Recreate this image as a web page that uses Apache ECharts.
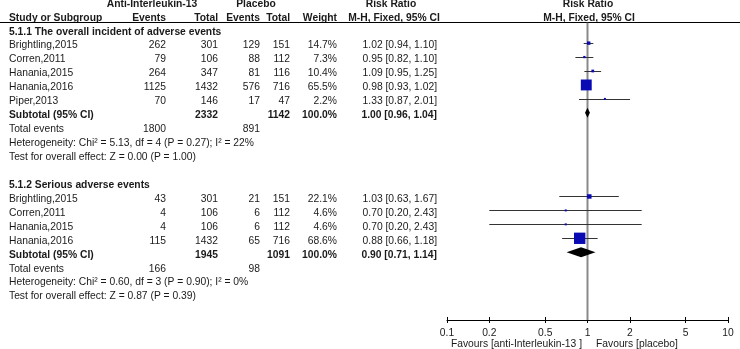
<!DOCTYPE html>
<html>
<head>
<meta charset="utf-8">
<script src="https://cdn.jsdelivr.net/npm/echarts@6/dist/echarts.min.js"></script>
<style>
  html, body { margin: 0; padding: 0; background: #fff; }
  #chart { width: 740px; height: 349px; }
</style>
</head>
<body>
<div id="chart"></div>
<script>
// 5.1.1 overall adverse events
var studies1 = ['Brightling,2015', 'Corren,2011', 'Hanania,2015', 'Hanania,2016', 'Piper,2013'];
var expEvents1 = [262, 79, 264, 1125, 70];
var expTotal1 = [301, 106, 347, 1432, 146];
var ctlEvents1 = [129, 88, 81, 576, 17];
var ctlTotal1 = [151, 112, 116, 716, 47];
var weight1 = [14.7, 7.3, 10.4, 65.5, 2.2];
var rr1 = [1.02, 0.95, 1.09, 0.98, 1.33];
var lo1 = [0.94, 0.82, 0.95, 0.93, 0.87];
var hi1 = [1.10, 1.10, 1.25, 1.02, 2.01];
var sub1 = { expTotal: 2332, ctlTotal: 1142, rr: 1.00, lo: 0.96, hi: 1.04, expEv: 1800, ctlEv: 891 };
var het1 = 'Heterogeneity: Chi² = 5.13, df = 4 (P = 0.27); I² = 22%';
var test1 = 'Test for overall effect: Z = 0.00 (P = 1.00)';

// 5.1.2 serious adverse events
var studies2 = ['Brightling,2015', 'Corren,2011', 'Hanania,2015', 'Hanania,2016'];
var expEvents2 = [43, 4, 4, 115];
var expTotal2 = [301, 106, 106, 1432];
var ctlEvents2 = [21, 6, 6, 65];
var ctlTotal2 = [151, 112, 112, 716];
var weight2 = [22.1, 4.6, 4.6, 68.6];
var rr2 = [1.03, 0.70, 0.70, 0.88];
var lo2 = [0.63, 0.20, 0.20, 0.66];
var hi2 = [1.67, 2.43, 2.43, 1.18];
var sub2 = { expTotal: 1945, ctlTotal: 1091, rr: 0.90, lo: 0.71, hi: 1.14, expEv: 166, ctlEv: 98 };
var het2 = 'Heterogeneity: Chi² = 0.60, df = 3 (P = 0.90); I² = 0%';
var test2 = 'Test for overall effect: Z = 0.87 (P = 0.39)';

var tickLabels = [0.1, 0.2, 0.5, 1, 2, 5, 10];

// layout
var ROW0 = 31.7, ROWH = 13.94;
var YMIN = -2, YMAX = 20.68;
var FONT = '"Liberation Sans", Arial, sans-serif';
var FS = '10.3px ';
var TXT = '#1a1a1a';
function rowY(r) { return ROW0 + r * ROWH; }
function f2(v) { return v.toFixed(2); }
function ci(r, l, h) { return f2(r) + ' [' + f2(l) + ', ' + f2(h) + ']'; }

var colX = { name: 9, ev1: 166, tot1: 218, ev2: 260, tot2: 290, wt: 337, rr: 437 };

var graphics = [];
function txt(x, r, s, align, bold) {
  graphics.push({
    type: 'text', x: x, y: rowY(r),
    style: { text: String(s), fill: TXT, font: (bold ? 'bold ' : '') + FS + FONT,
             align: align || 'left', verticalAlign: 'middle' }
  });
}

// header
txt(152, -2, 'Anti-Interleukin-13', 'center', true);
txt(256, -2, 'Placebo', 'center', true);
txt(391, -2, 'Risk Ratio', 'center', true);
txt(588, -2, 'Risk Ratio', 'center', true);
txt(colX.name, -1, 'Study or Subgroup', 'left', true);
txt(colX.ev1, -1, 'Events', 'right', true);
txt(colX.tot1, -1, 'Total', 'right', true);
txt(colX.ev2, -1, 'Events', 'right', true);
txt(colX.tot2, -1, 'Total', 'right', true);
txt(colX.wt, -1, 'Weight', 'right', true);
txt(394, -1, 'M-H, Fixed, 95% CI', 'center', true);
txt(589, -1, 'M-H, Fixed, 95% CI', 'center', true);
graphics.push({ type: 'line', shape: { x1: 0, y1: 22.5, x2: 740, y2: 22.5 },
  style: { stroke: '#000', lineWidth: 1 } });

function groupRows(start, title, studies, e1, t1, e2, t2, w, rr, lo, hi, sub, het, test) {
  txt(colX.name, start, title, 'left', true);
  studies.forEach(function (s, i) {
    var r = start + 1 + i;
    txt(colX.name, r, s);
    txt(colX.ev1, r, e1[i], 'right');
    txt(colX.tot1, r, t1[i], 'right');
    txt(colX.ev2, r, e2[i], 'right');
    txt(colX.tot2, r, t2[i], 'right');
    txt(colX.wt, r, w[i].toFixed(1) + '%', 'right');
    txt(colX.rr, r, ci(rr[i], lo[i], hi[i]), 'right');
  });
  var rs = start + 1 + studies.length;
  txt(colX.name, rs, 'Subtotal (95% CI)', 'left', true);
  txt(colX.tot1, rs, sub.expTotal, 'right', true);
  txt(colX.tot2, rs, sub.ctlTotal, 'right', true);
  txt(colX.wt, rs, '100.0%', 'right', true);
  txt(colX.rr, rs, ci(sub.rr, sub.lo, sub.hi), 'right', true);
  txt(colX.name, rs + 1, 'Total events');
  txt(colX.ev1, rs + 1, sub.expEv, 'right');
  txt(colX.ev2, rs + 1, sub.ctlEv, 'right');
  txt(colX.name, rs + 2, het);
  txt(colX.name, rs + 3, test);
  return rs;
}
var subRow1 = groupRows(0, '5.1.1 The overall incident of adverse events', studies1,
  expEvents1, expTotal1, ctlEvents1, ctlTotal1, weight1, rr1, lo1, hi1, sub1, het1, test1);
var subRow2 = groupRows(11, '5.1.2 Serious adverse events', studies2,
  expEvents2, expTotal2, ctlEvents2, ctlTotal2, weight2, rr2, lo2, hi2, sub2, het2, test2);

// forest data (x in log10 units), marks sit a touch above the text centre
var L = Math.log10;
var MARK_DY = -0.18;
var studyPts = [], ciLines = [], diamonds = [];
function addStudies(start, rr, lo, hi, w) {
  rr.forEach(function (v, i) {
    var r = start + 1 + i + MARK_DY;
    studyPts.push([L(v), r, w[i]]);
    ciLines.push([L(lo[i]), L(hi[i]), r]);
  });
}
addStudies(0, rr1, lo1, hi1, weight1);
addStudies(11, rr2, lo2, hi2, weight2);
diamonds.push([L(sub1.lo), L(sub1.rr), L(sub1.hi), subRow1 + MARK_DY]);
diamonds.push([L(sub2.lo), L(sub2.rr), L(sub2.hi), subRow2 + MARK_DY]);

var tickVals = tickLabels.map(L);
function tickFmt(v) {
  for (var i = 0; i < tickVals.length; i++) {
    if (Math.abs(tickVals[i] - v) < 1e-6) return String(tickLabels[i]);
  }
  return '';
}

var gridTop = rowY(YMIN), gridBottom = rowY(YMAX);
var chart = echarts.init(document.getElementById('chart'));
var option = {
  animation: false,
  backgroundColor: '#fff',
  grid: { left: 447, width: 281, top: gridTop, height: gridBottom - gridTop },
  xAxis: [{
    type: 'value', min: -1, max: 1, position: 'bottom',
    axisLine: { onZero: false, lineStyle: { color: '#000', width: 1 } },
    axisTick: { length: 3, customValues: tickVals, lineStyle: { color: '#000' } },
    axisLabel: { customValues: tickVals, formatter: tickFmt, color: TXT,
                 fontFamily: FONT, fontSize: 10.3, margin: 8 },
    splitLine: { show: false }
  }, {
    type: 'value', min: -1, max: 1, position: 'bottom', offset: 0,
    axisLine: { show: false, onZero: false },
    axisTick: { inside: true, length: 3, customValues: tickVals, lineStyle: { color: '#000' } },
    axisLabel: { show: false },
    splitLine: { show: false }
  }],
  yAxis: { type: 'value', min: YMIN, max: YMAX, inverse: true, show: false },
  series: [
    {
      type: 'line', data: [[0, -0.65], [0, YMAX]], symbol: 'none',
      lineStyle: { color: '#8a8a8a', width: 2 }, silent: true, z: 1
    },
    {
      type: 'custom', data: ciLines, z: 2,
      renderItem: function (params, api) {
        var a = api.coord([api.value(0), api.value(2)]);
        var b = api.coord([api.value(1), api.value(2)]);
        return { type: 'line', shape: { x1: a[0], y1: Math.round(a[1]) + 0.5, x2: b[0], y2: Math.round(b[1]) + 0.5 },
                 style: { stroke: '#333', lineWidth: 1 } };
      }
    },
    {
      type: 'scatter', data: studyPts, symbol: 'rect', z: 3,
      symbolSize: function (v) { return Math.max(2, 1.2 + v[2] * 0.148); },
      itemStyle: { color: '#0a0ab4', opacity: 1 }
    },
    {
      type: 'custom', data: diamonds, z: 4,
      renderItem: function (params, api) {
        var y = api.value(3);
        var l = api.coord([api.value(0), y]);
        var m = api.coord([api.value(1), y]);
        var h = api.coord([api.value(2), y]);
        var hh = 5;
        return { type: 'polygon',
                 shape: { points: [[l[0], l[1]], [m[0], m[1] - hh], [h[0], h[1]], [m[0], m[1] + hh]] },
                 style: { fill: '#000' } };
      }
    }
  ],
  graphic: graphics.concat([
    { type: 'text', x: 582, y: 344, style: { text: 'Favours [anti-Interleukin-13 ]', fill: TXT,
      font: FS + FONT, align: 'right', verticalAlign: 'middle' } },
    { type: 'text', x: 596, y: 344, style: { text: 'Favours [placebo]', fill: TXT,
      font: FS + FONT, align: 'left', verticalAlign: 'middle' } }
  ])
};
chart.setOption(option);
</script>
</body>
</html>
